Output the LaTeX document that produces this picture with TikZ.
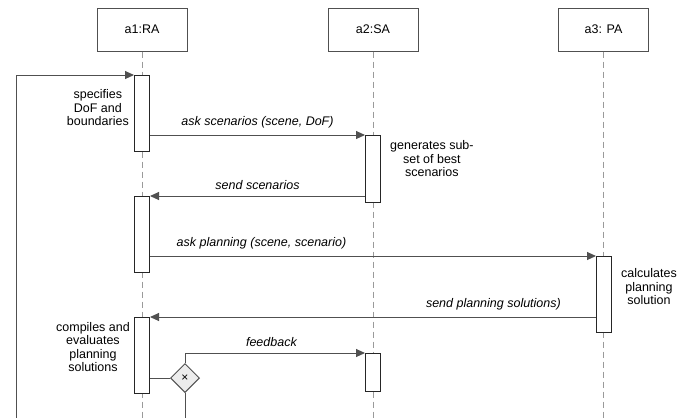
\documentclass[tikz,border=0pt]{standalone}
\usepackage{fontspec}
\setmainfont{Liberation Sans}
\usepackage{xcolor}
\usetikzlibrary{arrows.meta,positioning,calc,shapes.geometric}
\definecolor{seqLine}{HTML}{505050}
\definecolor{seqLife}{HTML}{9a9a9a}
\definecolor{seqGate}{HTML}{ececec}

\begin{document}
\begin{tikzpicture}[x=1pt,y=-1pt,>={Triangle[length=9pt,width=8pt]},
  font=\fontsize{12.5}{13.5}\selectfont,
  head/.style={draw=seqLine,line width=1pt,minimum width=90pt,minimum height=43pt},
  act/.style={draw=black!85,fill=white,line width=1pt,minimum width=15pt,inner sep=0pt,anchor=north},
  life/.style={seqLife,line width=1pt,dash pattern=on 6pt off 4pt},
  msg/.style={seqLine,line width=1pt,->},
  lbl/.style={text=black,font=\fontsize{12.5}{13.5}\selectfont\itshape,above=3pt},
  note/.style={align=center,inner sep=0pt}]
\useasboundingbox (0,0) rectangle (697,418);
\coordinate (bot) at (0,418);
\coordinate (loop) at (16,418);
% agents
\node[head] (ra) at (142,29.5) {a1:RA};
\node[head] (sa) at (373,29.5) {a2:SA};
\node[head] (pa) at (603.5,29.5) {a3: PA};
\draw[life] (ra) -- (ra |- bot);
\draw[life] (sa) -- (sa |- bot);
\draw[life] (pa) -- (pa |- bot);
% activations
\node[act,minimum height=76pt] (ra1) at (142,75) {};
\node[act,minimum height=67pt] (sa1) at (373,135) {};
\node[act,minimum height=76pt] (ra2) at (142,196) {};
\node[act,minimum height=76pt] (pa1) at (604,256) {};
\node[act,minimum height=76pt] (ra3) at (142,317) {};
\node[act,minimum height=38pt] (sa2) at (373,353) {};
% notes
\node[note,anchor=east] (n1) at (129,108) {specifies\\DoF and\\boundaries};
\node[note,anchor=west] (n2) at (390,159) {generates sub-\\set of best\\scenarios};
\node[note,anchor=west] (n3) at (621,287) {calculates\\planning\\solution};
\node[note,anchor=east] (n4) at (130,347) {compiles and\\evaluates\\planning\\solutions};
% gate
\node[draw=seqLine,fill=seqGate,text=black,line width=1pt,diamond,inner sep=0pt,minimum size=29pt,
  font=\fontsize{12}{12}\selectfont] (gate) at (185,378) {×};
% messages
\draw[msg] (loop) |- (ra1.north west);
\draw[msg] (ra1.east |- sa1.north west) -- node[lbl] {ask scenarios (scene, DoF)} (sa1.north west);
\draw[msg] (sa1.west |- ra2.north east) -- node[lbl] {send scenarios} (ra2.north east);
\draw[msg] (ra2.east |- pa1.north west) -- node[lbl,pos=0.25] {ask planning (scene, scenario)} (pa1.north west);
\draw[msg] (pa1.west |- ra3.north east) -- node[lbl,pos=0.23] {send planning solutions)} (ra3.north east);
\draw[seqLine,line width=1pt] (ra3.east |- gate) -- (gate.west);
\draw[msg] (gate.north) |- node[lbl,pos=0.74] {feedback} (sa2.north west);
\draw[seqLine,line width=1pt] (gate.south) -- (gate.south |- bot);
\end{tikzpicture}
\end{document}
